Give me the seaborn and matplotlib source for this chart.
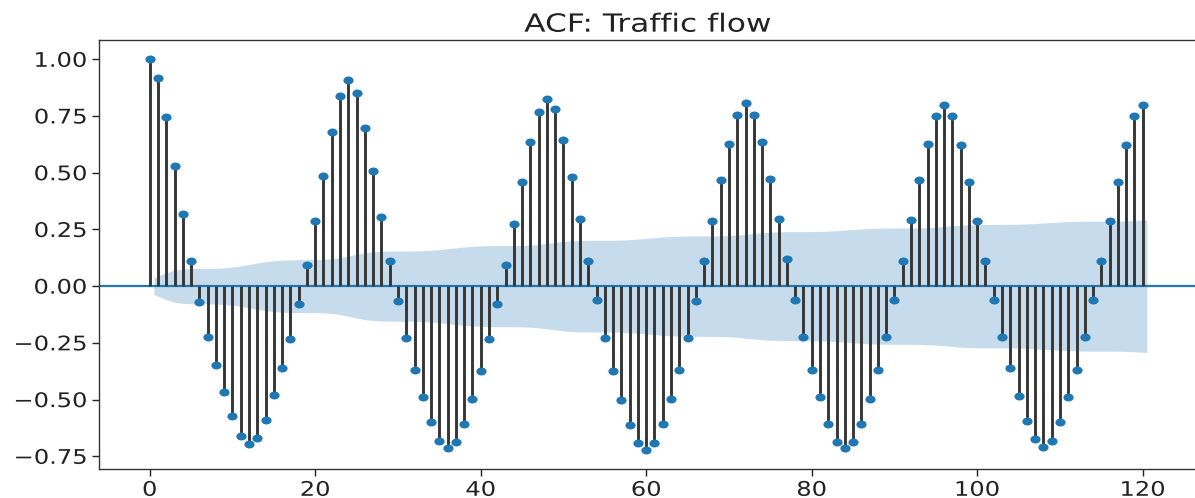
import numpy as np
import matplotlib
matplotlib.use("Agg")
import matplotlib.pyplot as plt
import seaborn as sns
from matplotlib.path import Path
from matplotlib.markers import MarkerStyle
from matplotlib.patheffects import AbstractPathEffect
from matplotlib.transforms import Affine2D

# Autocorrelation of hourly traffic flow, lags 0..120
acf_values = [
    1.000, 0.919, 0.744, 0.530, 0.316, 0.113, -0.068, -0.223, -0.349, -0.467,
    -0.571, -0.659, -0.695, -0.670, -0.589, -0.479, -0.363, -0.235, -0.079, 0.095,
    0.286, 0.485, 0.681, 0.837, 0.907, 0.850, 0.699, 0.508, 0.304, 0.113,
    -0.066, -0.228, -0.369, -0.490, -0.601, -0.681, -0.715, -0.686, -0.606, -0.496,
    -0.373, -0.235, -0.078, 0.095, 0.275, 0.461, 0.634, 0.768, 0.827, 0.780,
    0.646, 0.479, 0.298, 0.113, -0.060, -0.229, -0.374, -0.501, -0.611, -0.693,
    -0.721, -0.693, -0.606, -0.496, -0.369, -0.229, -0.066, 0.113, 0.286, 0.467,
    0.628, 0.756, 0.808, 0.756, 0.634, 0.471, 0.297, 0.119, -0.060, -0.223,
    -0.369, -0.490, -0.606, -0.687, -0.715, -0.687, -0.606, -0.496, -0.369, -0.223,
    -0.060, 0.113, 0.292, 0.467, 0.628, 0.750, 0.797, 0.750, 0.623, 0.461,
    0.286, 0.113, -0.060, -0.223, -0.363, -0.485, -0.595, -0.675, -0.709, -0.681,
    -0.601, -0.490, -0.369, -0.223, -0.060, 0.113, 0.286, 0.461, 0.623, 0.750,
    0.797,
]
n_obs = 2900  # series length used for the Bartlett confidence band
x_ticks = [0, 20, 40, 60, 80, 100, 120]
y_ticks = [-0.75, -0.50, -0.25, 0.00, 0.25, 0.50, 0.75, 1.00]
title = "ACF: Traffic flow"

lags = np.arange(len(acf_values))
acf = np.asarray(acf_values)

# Bartlett 95% band around zero (lag 0 excluded, edges widened by half a lag)
var = np.ones(len(acf)) / n_obs
var[0] = 0
var[2:] *= 1 + 2 * np.cumsum(acf[1:-1] ** 2)
half = 1.96 * np.sqrt(var)
band_x = lags[1:].astype(float)
band_x[0] -= 0.5
band_x[-1] += 0.5
band_half = half[1:]


class Widen(AbstractPathEffect):
    """Draw text a little wider than the font's natural proportions."""

    def __init__(self, sx=1.25, anchor="center"):
        super().__init__()
        self.sx = sx
        self.anchor = anchor

    def draw_path(self, renderer, gc, tpath, affine, rgbFace=None):
        ext = tpath.get_extents(affine)
        if self.anchor == "right":
            cx = ext.x1
        elif self.anchor == "left":
            cx = ext.x0
        else:
            cx = 0.5 * (ext.x0 + ext.x1)
        aff = affine + Affine2D().translate(-cx, 0).scale(self.sx, 1).translate(cx, 0)
        renderer.draw_path(gc, tpath, aff, rgbFace)


sns.set_theme(style="ticks")
plt.rcParams["font.family"] = ["DejaVu Sans"]
plt.rcParams["text.color"] = "#222222"

fig = plt.figure(figsize=(11.95, 4.98), dpi=100)
ax = fig.add_axes([99 / 1195, 29 / 498, 1098 / 1195, 429 / 498])

blue = "#1f77b4"
ax.fill_between(band_x, -band_half, band_half, color=blue, alpha=0.25, linewidth=0, zorder=1)
ax.axhline(0, color=blue, lw=1.6, zorder=2)
ax.vlines(lags, 0, acf, colors="#363636", lw=2.1, zorder=2)

ellipse = Affine2D().scale(1.28, 1.0).transform_path(Path.unit_circle())
sns.scatterplot(x=lags, y=acf, marker=MarkerStyle(ellipse), s=54, color=blue,
                linewidth=0, zorder=3, ax=ax, legend=False)

ax.set_xlim(-6.13, 126.56)
ax.set_ylim(-0.806, 1.085)
ax.set_xticks(x_ticks)
ax.set_yticks(y_ticks)
ax.set_xlabel("")
ax.set_ylabel("")
ax.tick_params(labelsize=14.5, colors="#222222", length=5, width=1.0)
for s in ax.spines.values():
    s.set_visible(True)
    s.set_color("#333333")
    s.set_linewidth(1.0)

t = ax.set_title(title, fontsize=18, color="#222222", pad=6)
t.set_path_effects([Widen(1.25, "center")])
plt.setp(ax.get_yticklabels(), path_effects=[Widen(1.2, "right")])
plt.setp(ax.get_xticklabels(), path_effects=[Widen(1.2, "center")])

fig.savefig("out.png", dpi=100)
